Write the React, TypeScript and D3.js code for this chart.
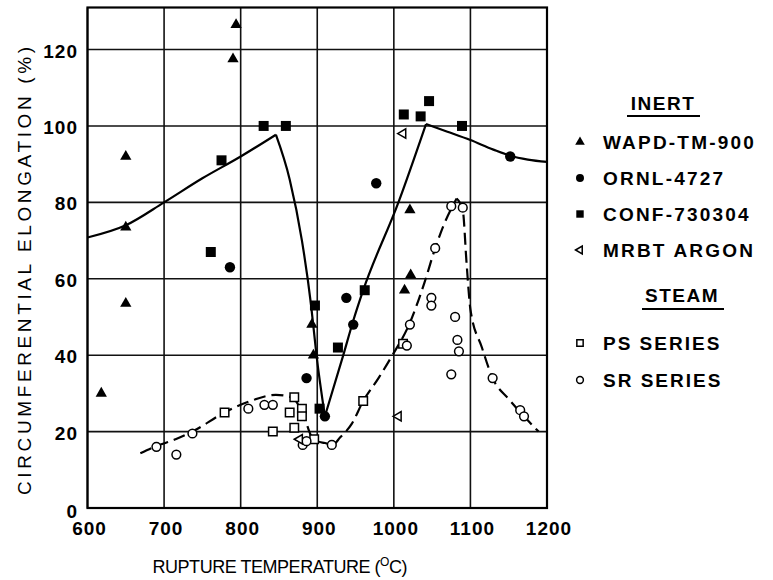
import React from 'react';
import * as d3 from 'd3';

// INERT
const wapdX = [618, 650, 650, 650, 790, 794, 893, 895, 1014, 1021, 1022];
const wapdY = [30, 92, 73.5, 53.5, 117.5, 126.5, 48, 40, 57, 78, 61];
const ornlX = [786, 886, 910, 938, 947, 977, 1152];
const ornlY = [63, 34, 24, 55, 48, 85, 92];
const confX = [761, 775, 830, 859, 897, 903, 927, 962, 1013, 1035, 1046, 1089];
const confY = [67, 91, 100, 100, 53, 26, 42, 57, 103, 102.5, 106.5, 100];
const mrbtX = [877, 1006, 1012];
const mrbtY = [18, 24, 98];
// STEAM
const psX = [779, 842, 864, 870, 870, 880, 880, 896, 960, 1012];
const psY = [25, 20, 25, 29, 21, 26, 24, 18, 28, 43];
const srX = [690, 716, 737, 810, 831, 842, 881, 886, 919, 1017, 1021, 1049, 1049, 1054, 1075, 1090, 1080, 1083, 1085, 1075, 1129, 1165, 1170];
const srY = [16, 14, 19.5, 26, 27, 27, 16.5, 17.5, 16.5, 42.5, 48, 55, 53, 68, 79, 78.6, 50, 44, 41, 35, 34, 25.6, 24];

// hand drawn fit curves (temperature, elongation)
const inertCurve = [
  [[600, 70.8], [650, 74], [700, 80], [750, 86.3], [800, 92], [846, 97.7]],
  [[846, 97.7], [864, 86], [880, 70], [892, 53], [899, 40], [910, 24]],
  [[910, 24], [934, 40], [947, 49], [960, 57], [1006, 80], [1042, 100.5]],
  [[1042, 100.5], [1070, 98.5], [1100, 96.3], [1130, 93.8], [1152, 92.2], [1175, 91.2], [1200, 90.6]],
];
const steamCurve = [
  [[669, 14.3], [690, 16.2], [715, 18], [737, 20], [779, 25], [810, 27.8], [846, 29.6], [866, 29], [878, 26],
   [886, 22], [893, 18.5], [900, 17.5], [910, 17], [920, 16.5], [930, 18.5], [945, 22], [960, 28], [980, 34],
   [997, 39.6], [1021, 48.5], [1040, 59], [1054, 68], [1065, 74], [1082, 81]],
  [[1082, 81], [1090, 78], [1095, 64], [1100, 52], [1115, 42], [1129, 34], [1150, 28.5], [1170, 24], [1189, 20]],
];

const xTicks = [600, 700, 800, 900, 1000, 1100, 1200];
const yTicks = [0, 20, 40, 60, 80, 100, 120];

const legendInert = ['WAPD-TM-900', 'ORNL-4727', 'CONF-730304', 'MRBT ARGON'];
const legendSteam = ['PS SERIES', 'SR SERIES'];

const font = '"Liberation Sans", Arial, Helvetica, sans-serif';

export default function App() {
  const x = d3.scaleLinear().domain([600, 1200]).range([87.5, 547]);
  const y = d3.scaleLinear().domain([0, 131]).range([508, 7.5]);

  const line = d3.line<number[]>()
    .x(d => x(d[0]))
    .y(d => y(d[1]))
    .curve(d3.curveMonotoneX);

  const sym = (type: d3.SymbolType, size: number) => d3.symbol().type(type).size(size)() as string;
  const triBig = sym(d3.symbolTriangle, 55);
  const circBig = sym(d3.symbolCircle, 85);
  const sqBig = sym(d3.symbolSquare, 100);
  const openTri = sym(d3.symbolTriangle, 38);
  const openSq = sym(d3.symbolSquare, 72);
  const openCirc = sym(d3.symbolCircle, 60);

  const triSmall = sym(d3.symbolTriangle, 40);
  const circSmall = sym(d3.symbolCircle, 50);
  const sqSmall = sym(d3.symbolSquare, 55);
  const openTriSmall = sym(d3.symbolTriangle, 26);
  const openSqSmall = sym(d3.symbolSquare, 40);
  const openCircSmall = sym(d3.symbolCircle, 36);

  const pts = (xs: number[], ys: number[]) => xs.map((v, i) => [x(v), y(ys[i])]);

  const legendSyms = [
    <path d={triSmall} fill="#000" />,
    <path d={circSmall} fill="#000" />,
    <path d={sqSmall} fill="#000" />,
    <path d={openTriSmall} transform="rotate(-90)" fill="#fff" stroke="#000" strokeWidth={1.5} />,
  ];
  const legendSteamSyms = [
    <path d={openSqSmall} fill="#fff" stroke="#000" strokeWidth={1.5} />,
    <path d={openCircSmall} fill="#fff" stroke="#000" strokeWidth={1.5} />,
  ];
  const inertY = [142, 178, 214, 250];
  const steamY = [343, 380];

  return (
    <svg width={773} height={580} style={{ position: 'absolute', left: 0, top: 0, background: '#fff' }}
      fontFamily={font}>
      {/* grid */}
      <g stroke="#111" strokeWidth={1.6}>
        {xTicks.map(t => <line key={'gx' + t} x1={x(t)} x2={x(t)} y1={y(131)} y2={y(0)} />)}
        {yTicks.map(t => <line key={'gy' + t} x1={x(600)} x2={x(1200)} y1={y(t)} y2={y(t)} />)}
      </g>
      <rect x={x(600)} y={y(131)} width={x(1200) - x(600)} height={y(0) - y(131)}
        fill="none" stroke="#000" strokeWidth={2.2} />

      {/* fit curves */}
      {inertCurve.map((seg, i) => (
        <path key={'s' + i} d={line(seg) as string} fill="none" stroke="#000" strokeWidth={2.2} />
      ))}
      {steamCurve.map((seg, i) => (
        <path key={'d' + i} d={line(seg) as string} fill="none" stroke="#000" strokeWidth={2.2}
          strokeDasharray="12 6" />
      ))}

      {/* steam points */}
      {pts(psX, psY).map((p, i) => (
        <path key={'ps' + i} d={openSq} transform={`translate(${p[0]},${p[1]})`}
          fill="#fff" stroke="#000" strokeWidth={1.5} />
      ))}
      {pts(srX, srY).map((p, i) => (
        <path key={'sr' + i} d={openCirc} transform={`translate(${p[0]},${p[1]})`}
          fill="#fff" stroke="#000" strokeWidth={1.5} />
      ))}
      {pts(mrbtX, mrbtY).map((p, i) => (
        <path key={'mr' + i} d={openTri} transform={`translate(${p[0]},${p[1]}) rotate(-90)`}
          fill="#fff" stroke="#000" strokeWidth={1.5} />
      ))}

      {/* inert points */}
      {pts(wapdX, wapdY).map((p, i) => (
        <path key={'wa' + i} d={triBig} transform={`translate(${p[0]},${p[1]})`} fill="#000" />
      ))}
      {pts(ornlX, ornlY).map((p, i) => (
        <path key={'or' + i} d={circBig} transform={`translate(${p[0]},${p[1]})`} fill="#000" />
      ))}
      {pts(confX, confY).map((p, i) => (
        <path key={'co' + i} d={sqBig} transform={`translate(${p[0]},${p[1]})`} fill="#000" />
      ))}

      {/* axes labels */}
      <g fontSize={19} fontWeight="bold" fill="#000">
        {xTicks.map(t => (
          <text key={'xt' + t} x={x(t) + 2} y={535} textAnchor="middle" letterSpacing={1}>{t}</text>
        ))}
        {yTicks.map(t => (
          <text key={'yt' + t} x={t === 0 ? 78 : 78} y={t === 0 ? y(t) + 10 : y(t) + 8}
            textAnchor="end" letterSpacing={1}>{t}</text>
        ))}
      </g>
      <text x={280} y={573} textAnchor="middle" fontSize={18} textLength={255} lengthAdjust="spacing">
        RUPTURE TEMPERATURE (<tspan fontSize={12} dy={-7}>O</tspan><tspan dy={7}>C)</tspan>
      </text>
      <text transform="translate(31,271) rotate(-90)" textAnchor="middle" fontSize={19}
        textLength={448} lengthAdjust="spacing">
        CIRCUMFERENTIAL ELONGATION (%)
      </text>

      {/* legend */}
      <g fontSize={19} fontWeight="bold">
        <text x={663} y={110} textAnchor="middle" letterSpacing={1.5}>INERT</text>
        <line x1={627} x2={700} y1={116} y2={116} stroke="#000" strokeWidth={1.8} />
        {legendInert.map((name, i) => (
          <g key={name}>
            <g transform={`translate(580,${inertY[i]})`}>{legendSyms[i]}</g>
            <text x={603} y={inertY[i] + 7} letterSpacing={2.2}>{name}</text>
          </g>
        ))}
        <text x={682} y={302} textAnchor="middle" letterSpacing={1.5}>STEAM</text>
        <line x1={642} x2={724} y1={309} y2={309} stroke="#000" strokeWidth={1.8} />
        {legendSteam.map((name, i) => (
          <g key={name}>
            <g transform={`translate(580,${steamY[i]})`}>{legendSteamSyms[i]}</g>
            <text x={603} y={steamY[i] + 7} letterSpacing={2}>{name}</text>
          </g>
        ))}
      </g>
    </svg>
  );
}
